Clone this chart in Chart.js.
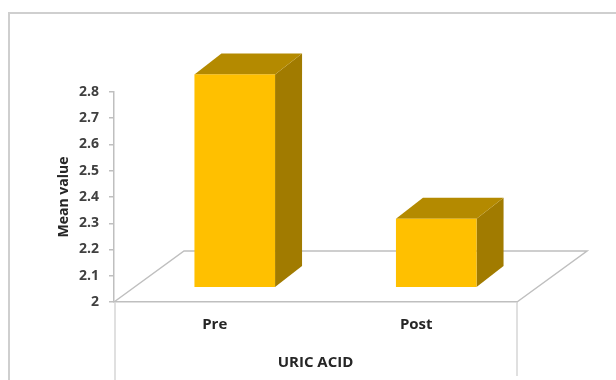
<!DOCTYPE html>
<html>
<head>
<meta charset="utf-8">
<script src="https://cdn.jsdelivr.net/npm/chart.js@4"></script>
<style>
  html, body { margin: 0; padding: 0; background: #fff; }
  #wrap { width: 616px; height: 380px; position: relative; }
</style>
</head>
<body>
<div id="wrap"><canvas id="grafico"></canvas></div>
<script>
const categorias = ['Pre', 'Post'];
const valores = [2.81, 2.26];
const ticksY = [2, 2.1, 2.2, 2.3, 2.4, 2.5, 2.6, 2.7, 2.8];
const etiquetasY = ['2', '2.1', '2.2', '2.3', '2.4', '2.5', '2.6', '2.7', '2.8'];

const GRIS = '#BFBFBF';
const FRENTE = '#FFC000';
const LADO = '#A17B00';
const TAPA = '#B48A00';

// profundidad del piso y de las columnas (vista oblicua)
const PISO = { dx: 70, dy: -51 };
const DESPLAZ = { dx: 20, dy: -15 };
const FONDO = { dx: 27, dy: -21 };

const cubos3d = {
  id: 'cubos3d',
  beforeDatasetsDraw(chart) {
    const { ctx, chartArea: a } = chart;
    ctx.save();
    // marco exterior
    ctx.strokeStyle = '#CFCFCF';
    ctx.lineWidth = 2;
    ctx.beginPath();
    ctx.moveTo(9, 380);
    ctx.lineTo(9, 13);
    ctx.lineTo(616, 13);
    ctx.stroke();

    // piso
    ctx.strokeStyle = GRIS;
    ctx.lineWidth = 1.5;
    ctx.beginPath();
    ctx.moveTo(a.left, a.bottom);
    ctx.lineTo(a.left + PISO.dx, a.bottom + PISO.dy);
    ctx.lineTo(a.right + PISO.dx, a.bottom + PISO.dy);
    ctx.lineTo(a.right, a.bottom);
    ctx.stroke();

    // lineas bajo el piso
    ctx.strokeStyle = '#D6D6D6';
    ctx.beginPath();
    ctx.moveTo(a.left + 1, a.bottom);
    ctx.lineTo(a.left + 1, 380);
    ctx.moveTo(a.right, a.bottom);
    ctx.lineTo(a.right, 376);
    ctx.stroke();
    ctx.restore();
  },
  afterDatasetsDraw(chart) {
    const { ctx } = chart;
    const meta = chart.getDatasetMeta(0);
    const base = chart.scales.y.getPixelForValue(ticksY[0]);
    ctx.save();
    meta.data.forEach(bar => {
      const x0 = bar.x - bar.width / 2 + DESPLAZ.dx;
      const x1 = bar.x + bar.width / 2 + DESPLAZ.dx;
      const yTop = bar.y + DESPLAZ.dy;
      const yBase = base + DESPLAZ.dy;

      // cara lateral
      ctx.fillStyle = LADO;
      ctx.beginPath();
      ctx.moveTo(x1, yTop);
      ctx.lineTo(x1 + FONDO.dx, yTop + FONDO.dy);
      ctx.lineTo(x1 + FONDO.dx, yBase + FONDO.dy);
      ctx.lineTo(x1, yBase);
      ctx.closePath();
      ctx.fill();

      // tapa
      ctx.fillStyle = TAPA;
      ctx.beginPath();
      ctx.moveTo(x0, yTop);
      ctx.lineTo(x0 + FONDO.dx, yTop + FONDO.dy);
      ctx.lineTo(x1 + FONDO.dx, yTop + FONDO.dy);
      ctx.lineTo(x1, yTop);
      ctx.closePath();
      ctx.fill();

      // frente
      ctx.fillStyle = FRENTE;
      ctx.fillRect(x0, yTop, x1 - x0, yBase - yTop);
    });
    ctx.restore();
  }
};

const ctx = document.getElementById('grafico').getContext('2d');
new Chart(ctx, {
  type: 'bar',
  data: {
    labels: categorias,
    datasets: [{
      label: 'URIC ACID',
      data: valores,
      backgroundColor: 'rgba(0,0,0,0)',
      borderWidth: 0,
      categoryPercentage: 0.8,
      barPercentage: 0.5
    }]
  },
  options: {
    responsive: true,
    maintainAspectRatio: false,
    animation: false,
    layout: { padding: { top: 92, right: 99, left: 0, bottom: 0 } },
    plugins: {
      legend: { display: false },
      tooltip: { enabled: false }
    },
    scales: {
      y: {
        min: 2,
        max: 2.8,
        afterBuildTicks: scale => {
          scale.ticks = ticksY.map(v => ({ value: v }));
        },
        afterFit: scale => { scale.width = 114; },
        ticks: {
          color: '#404040',
          padding: 10,
          font: { family: 'Open Sans', size: 14, weight: 'bold' },
          callback: (v, i) => etiquetasY[i]
        },
        grid: { drawOnChartArea: false, tickLength: 5, color: GRIS, lineWidth: 1.5 },
        border: { color: GRIS, width: 1.5 },
        title: {
          display: true,
          text: 'Mean value',
          color: '#262626',
          font: { family: 'Open Sans', size: 14, weight: 'bold' },
          padding: { top: 56, bottom: 0 }
        }
      },
      x: {
        afterFit: scale => { scale.height = 78; },
        ticks: {
          color: '#262626',
          padding: 14,
          font: { family: 'Open Sans', size: 15, weight: 'bold' }
        },
        grid: { display: false, drawTicks: false },
        border: { color: GRIS, width: 1.5 },
        title: {
          display: true,
          text: 'URIC ACID',
          color: '#262626',
          font: { family: 'Open Sans', size: 15, weight: 'bold' },
          padding: { top: 0, bottom: 8 }
        }
      }
    }
  },
  plugins: [cubos3d]
});
</script>
</body>
</html>
